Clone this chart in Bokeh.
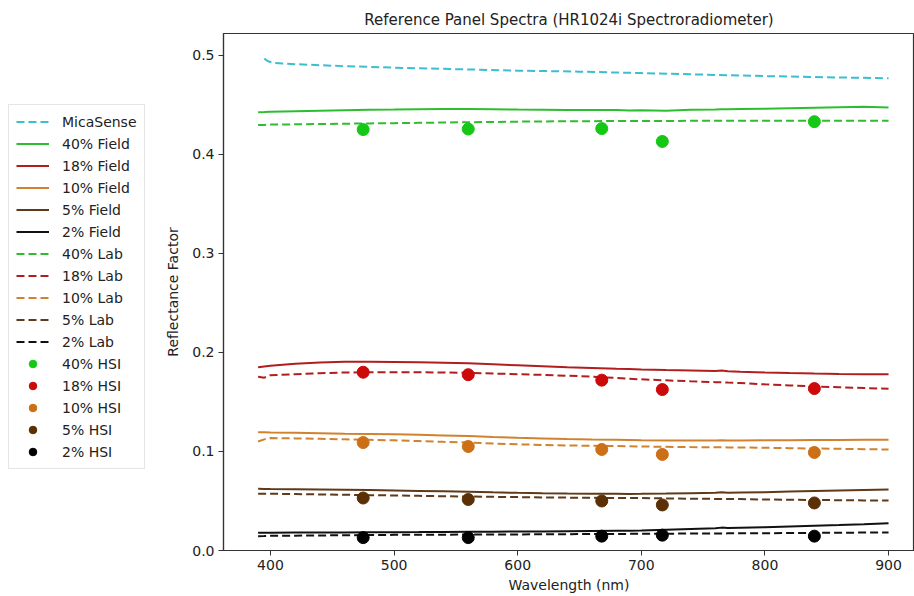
from bokeh.plotting import figure
from bokeh.models import Range1d, Legend, LegendItem, FixedTicker, NumeralTickFormatter
from bokeh.layouts import row
from bokeh.embed import file_html
from bokeh.resources import INLINE

# ---------------- data ----------------
wl = [390, 395, 400, 420, 440, 460, 480, 500, 520, 540, 560, 580, 600, 620, 640, 660,
      680, 690, 700, 720, 740, 760, 765, 770, 780, 800, 820, 840, 860, 880, 900]

mica_wl = [395, 398, 402, 410, 430, 460, 500, 550, 600, 650, 700, 750, 800, 850, 900]
mica = [0.4966, 0.4940, 0.4925, 0.4916, 0.4905, 0.4890, 0.4875, 0.4860, 0.4845, 0.4835,
        0.4820, 0.4805, 0.4790, 0.4778, 0.4768]

field_40 = [.4425, .4427, .4430, .4435, .4440, .4445, .4450, .4452, .4455, .4458, .4458, .4455,
            .4452, .4450, .4448, .4447, .4448, .4442, .4446, .4441, .4450, .4453, .4456, .4454,
            .4457, .4460, .4465, .4470, .4475, .4480, .4472]
field_18 = [.1850, .1858, .1865, .1885, .1898, .1905, .1905, .1903, .1900, .1895, .1890, .1880,
            .1870, .1860, .1850, .1843, .1835, .1832, .1828, .1822, .1817, .1812, .1818, .1811,
            .1805, .1798, .1792, .1787, .1783, .1780, .1780]
field_10 = [.1195, .1194, .1192, .1188, .1184, .1180, .1177, .1173, .1168, .1162, .1155, .1146,
            .1138, .1132, .1126, .1121, .1117, .1115, .1113, .1111, .1110, .1110, .1114, .1110,
            .1110, .1112, .1113, .1115, .1116, .1117, .1117]
field_5 = [.0623, .0622, .0621, .0619, .0616, .0613, .0610, .0606, .0602, .0598, .0594, .0587,
           .0582, .0578, .0575, .0573, .0572, .0571, .0572, .0575, .0579, .0583, .0587, .0583,
           .0585, .0589, .0595, .0601, .0606, .0611, .0616]
field_2 = [.0179, .0180, .0180, .0181, .0182, .0183, .0184, .0185, .0186, .0188, .0189, .0190,
           .0192, .0193, .0195, .0197, .0199, .0200, .0202, .0210, .0218, .0225, .0231, .0226,
           .0230, .0236, .0243, .0250, .0257, .0265, .0276]

lab_40 = [.4295, .4297, .4300, .4303, .4306, .4309, .4312, .4315, .4318, .4321, .4324, .4327,
          .4330, .4332, .4334, .4335, .4336, .4336, .4337, .4337, .4338, .4338, .4338, .4338,
          .4339, .4339, .4340, .4340, .4340, .4340, .4340]
lab_18 = [.1755, .1745, .1770, .1780, .1790, .1797, .1800, .1800, .1800, .1797, .1795, .1787,
          .1780, .1773, .1765, .1755, .1742, .1735, .1728, .1718, .1708, .1700, .1698, .1695,
          .1690, .1678, .1667, .1657, .1648, .1640, .1633]
lab_10 = [.1100, .1122, .1135, .1132, .1128, .1122, .1117, .1112, .1105, .1097, .1090, .1080,
          .1072, .1066, .1061, .1057, .1054, .1052, .1050, .1047, .1044, .1042, .1042, .1041,
          .1040, .1037, .1033, .1030, .1027, .1023, .1020]
lab_5 = [.0572, .0573, .0573, .0570, .0566, .0563, .0559, .0556, .0552, .0548, .0545, .0542,
         .0539, .0536, .0534, .0532, .0530, .0529, .0529, .0526, .0523, .0521, .0521, .0520,
         .0519, .0515, .0512, .0510, .0508, .0506, .0505]
lab_2 = [.0145, .0146, .0148, .0150, .0152, .0154, .0156, .0158, .0159, .0160, .0161, .0162,
         .0162, .0164, .0165, .0166, .0167, .0168, .0168, .0170, .0171, .0172, .0172, .0173,
         .0173, .0175, .0176, .0178, .0179, .0181, .0182]

hsi_wl = [475, 560, 668, 717, 840]
hsi_40 = [0.4250, 0.4255, 0.4260, 0.4130, 0.4330]
hsi_18 = [0.1800, 0.1775, 0.1720, 0.1625, 0.1635]
hsi_10 = [0.1090, 0.1050, 0.1020, 0.0970, 0.0990]
hsi_5 = [0.0530, 0.0515, 0.0500, 0.0460, 0.0480]
hsi_2 = [0.0130, 0.0130, 0.0145, 0.0155, 0.0145]

panels = ["40%", "18%", "10%", "5%", "2%"]
field_series = [field_40, field_18, field_10, field_5, field_2]
lab_series = [lab_40, lab_18, lab_10, lab_5, lab_2]
hsi_series = [hsi_40, hsi_18, hsi_10, hsi_5, hsi_2]

line_colors = ["#2fbd2f", "#b01e1e", "#d0822e", "#5e3a1a", "#111111"]
dot_colors = ["#14c814", "#cc0a0a", "#cc7018", "#5a3004", "#000000"]
mica_color = "#3bbfcf"

x_ticks = [400, 500, 600, 700, 800, 900]
y_ticks = [0.0, 0.1, 0.2, 0.3, 0.4, 0.5]

FONT = "DejaVu Sans"
DASH = "8 4"


def draw_all(fig):
    """Draw every series on fig; return legend items in reference order."""
    mica_r = fig.line(mica_wl, mica, line_color=mica_color, line_width=2, line_dash=DASH)
    f_items, l_items, h_items = [], [], []
    for name, fs, ls, lc in zip(panels, field_series, lab_series, line_colors):
        rf = fig.line(wl, fs, line_color=lc, line_width=2)
        rl = fig.line(wl, ls, line_color=lc, line_width=2, line_dash=DASH)
        f_items.append(LegendItem(label=f"{name} Field", renderers=[rf]))
        l_items.append(LegendItem(label=f"{name} Lab", renderers=[rl]))
    for name, hs, dc in zip(panels, hsi_series, dot_colors):
        rh = fig.scatter(hsi_wl, hs, size=12, fill_color=dc, line_color=dc, marker="circle")
        h_items.append(LegendItem(label=f"{name} HSI", renderers=[rh]))
    return [LegendItem(label="MicaSense", renderers=[mica_r])] + f_items + l_items + h_items


# ---------------- main figure ----------------
p = figure(width=764, height=596, x_range=Range1d(362, 921), y_range=Range1d(0, 0.522),
           output_backend="svg", toolbar_location=None,
           min_border_left=73, min_border_right=0, min_border_top=33, min_border_bottom=46)
p.background_fill_color = "white"
p.border_fill_color = "white"
p.xgrid.visible = False
p.ygrid.visible = False
p.outline_line_color = "#333333"
p.outline_line_width = 1.2

p.title.text = "Reference Panel Spectra (HR1024i Spectroradiometer)"
p.title.align = "center"
p.title.text_font = FONT
p.title.text_font_size = "15px"
p.title.text_font_style = "normal"
p.title.text_color = "#222222"
p.title.offset = 0

for ax in (p.xaxis[0], p.yaxis[0]):
    ax.axis_line_color = "#333333"
    ax.axis_line_width = 1.2
    ax.major_tick_line_color = "#333333"
    ax.major_tick_out = 5
    ax.major_tick_in = 0
    ax.minor_tick_line_color = None
    ax.major_label_text_font = FONT
    ax.major_label_text_font_size = "14px"
    ax.major_label_text_color = "#222222"
    ax.axis_label_text_font = FONT
    ax.axis_label_text_font_size = "14px"
    ax.axis_label_text_font_style = "normal"
    ax.axis_label_text_color = "#222222"

p.xaxis.ticker = FixedTicker(ticks=x_ticks)
p.yaxis.ticker = FixedTicker(ticks=y_ticks)
p.yaxis.formatter = NumeralTickFormatter(format="0.0")
p.xaxis.axis_label = "Wavelength (nm)"
p.yaxis.axis_label = "Reflectance Factor"
p.xaxis.major_label_standoff = 4
p.yaxis.major_label_standoff = 4
p.xaxis.axis_label_standoff = 4
p.yaxis.axis_label_standoff = 8

draw_all(p)

# ---------------- legend figure (to the left of the axes) ----------------
lg = figure(width=150, height=596, x_range=Range1d(0, 1), y_range=Range1d(0, 1),
            x_axis_type=None, y_axis_type=None, output_backend="svg", toolbar_location=None,
            min_border=0)
lg.xgrid.visible = False
lg.ygrid.visible = False
lg.outline_line_color = None
lg.background_fill_color = "white"
lg.border_fill_color = "white"
items = draw_all(lg)  # glyphs sit outside this figure's ranges; only the legend shows

legend = Legend(items=items, location=(8, 81))
legend.label_text_font = FONT
legend.label_text_font_size = "14px"
legend.label_text_color = "#222222"
legend.label_height = 19
legend.glyph_height = 19
legend.glyph_width = 33
legend.spacing = 3
legend.label_standoff = 13
legend.padding = 7
legend.margin = 0
legend.border_line_color = "#cccccc"
legend.border_line_width = 1
legend.background_fill_alpha = 1.0
lg.add_layout(legend, "center")

layout = row(lg, p)
open("out.html", "w").write(file_html(layout, INLINE))
